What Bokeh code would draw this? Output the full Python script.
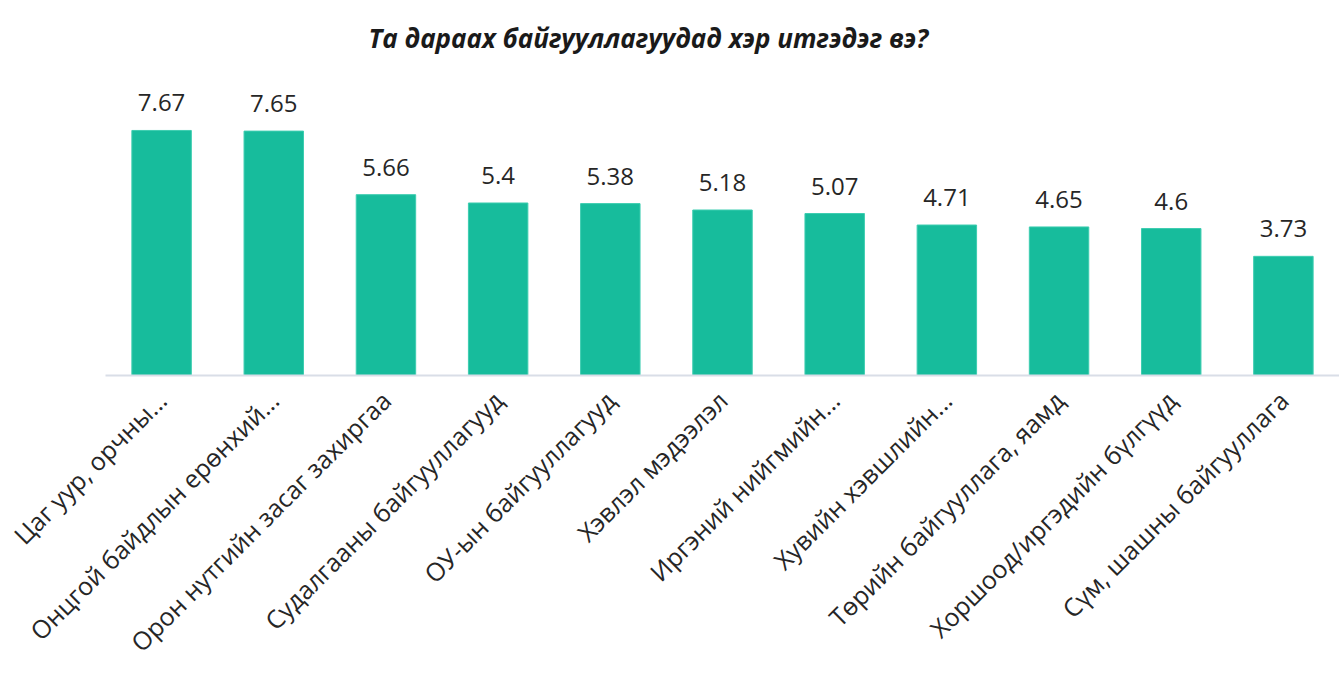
import math
from bokeh.plotting import figure
from bokeh.models import ColumnDataSource, Range1d
from bokeh.core.properties import value
from bokeh.embed import file_html
from bokeh.resources import INLINE

title_text = "Та дараах байгууллагуудад хэр итгэдэг вэ?"
categories = [
    "Цаг уур, орчны...",
    "Онцгой байдлын ерөнхий...",
    "Орон нутгийн засаг захиргаа",
    "Судалгааны байгууллагууд",
    "ОУ-ын байгууллагууд",
    "Хэвлэл мэдээлэл",
    "Иргэний нийгмийн...",
    "Хувийн хэвшлийн...",
    "Төрийн байгууллага, яамд",
    "Хоршоод/иргэдийн бүлгүүд",
    "Сүм, шашны байгууллага",
]
values = [7.67, 7.65, 5.66, 5.4, 5.38, 5.18, 5.07, 4.71, 4.65, 4.6, 3.73]
value_labels = ["7.67", "7.65", "5.66", "5.4", "5.38", "5.18", "5.07", "4.71", "4.65", "4.6", "3.73"]

src = ColumnDataSource(dict(cat=categories, val=values, lab=value_labels))

p = figure(
    x_range=categories,
    y_range=Range1d(0, 9.86),
    width=1339,
    height=674,
    output_backend="svg",
    toolbar_location=None,
    min_border_left=105,
    min_border_right=0,
    min_border_top=60,
    min_border_bottom=299,
)
p.x_range.range_padding = 0

p.vbar(x="cat", top="val", width=0.53, source=src,
       fill_color="#17BC9C", line_color="#3DCDB0", line_width=1)

p.text(x="cat", y="val", text="lab", source=src,
       text_align="center", text_baseline="bottom", y_offset=-19,
       text_font=value("Open Sans"), text_font_size="24px", text_color="#262626")

p.title.text = title_text
p.title.text_font = "Open Sans"
p.title.text_font_style = "bold italic"
p.title.text_font_size = "26px"
p.title.text_color = "#1a1a1a"
p.title.align = "left"
p.title.offset = 263

p.yaxis.visible = False
p.xgrid.visible = False
p.ygrid.visible = False
p.outline_line_color = None

ax = p.xaxis[0]
ax.axis_line_color = "#D9DEE7"
ax.axis_line_width = 2
ax.major_tick_line_color = None
ax.minor_tick_line_color = None
ax.major_label_orientation = math.pi / 4
ax.major_label_text_font = "Open Sans"
ax.major_label_text_font_size = "25px"
ax.major_label_text_color = "#262626"
ax.major_label_standoff = 14

open("out.html", "w").write(file_html(p, INLINE))
